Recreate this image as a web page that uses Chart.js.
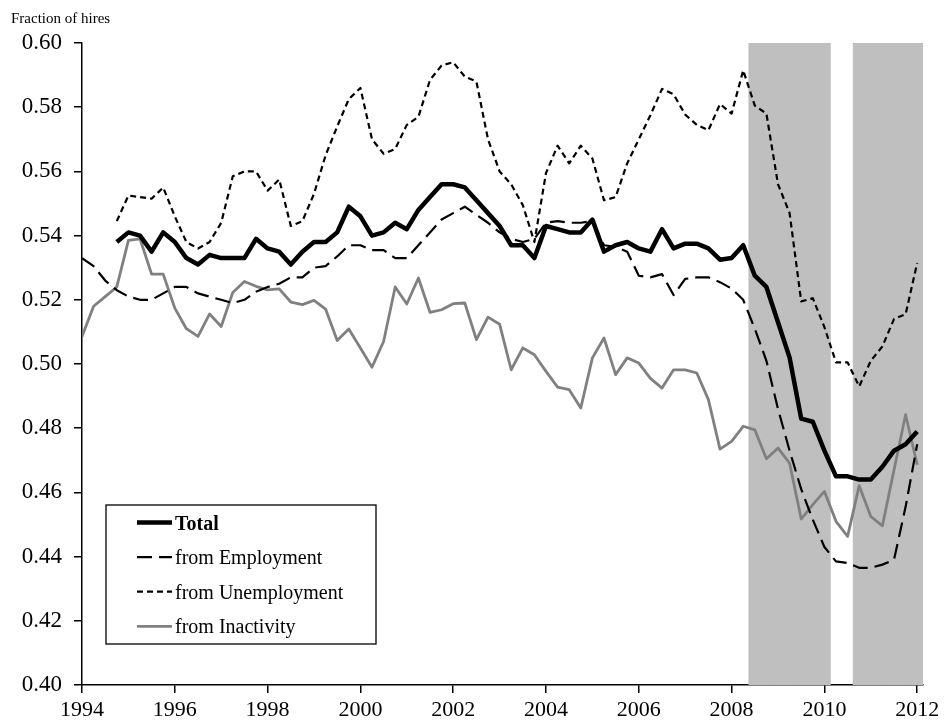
<!DOCTYPE html>
<html>
<head>
<meta charset="utf-8">
<title>Fraction of hires</title>
<script src="https://cdn.jsdelivr.net/npm/chart.js@4.4.1/dist/chart.umd.min.js"></script>
<style>
  html, body { margin: 0; padding: 0; background: #fff; }
</style>
</head>
<body>
<canvas id="chart1" width="949" height="727"></canvas>
<script>
// quarterly series, 1994Q1 .. 2012Q1
const firstYear = 1994;
const quarterCount = 73;
const axisEnd = 2012.125;
const xTickYears = [1994, 1996, 1998, 2000, 2002, 2004, 2006, 2008, 2010, 2012];
const yTickValues = [0.40, 0.42, 0.44, 0.46, 0.48, 0.50, 0.52, 0.54, 0.56, 0.58, 0.60];
const recessionQuarters = ['2008Q3', '2008Q4', '2009Q1', '2009Q2', '2009Q3', '2009Q4', '2010Q1',
                           '2010Q4', '2011Q1', '2011Q2', '2011Q3', '2011Q4', '2012Q1'];

const total = [null, null, null, 0.538, 0.541, 0.540, 0.535, 0.541, 0.538, 0.533, 0.531, 0.534, 0.533,
  0.533, 0.533, 0.539, 0.536, 0.535, 0.531, 0.535, 0.538, 0.538, 0.541, 0.549, 0.546, 0.540, 0.541,
  0.544, 0.542, 0.548, 0.552, 0.556, 0.556, 0.555, 0.551, 0.547, 0.543, 0.537, 0.537, 0.533, 0.543,
  0.542, 0.541, 0.541, 0.545, 0.535, 0.537, 0.538, 0.536, 0.535, 0.542, 0.536, 0.5375, 0.5375, 0.536,
  0.5325, 0.533, 0.537, 0.5275, 0.524, 0.513, 0.502, 0.483, 0.482, 0.473, 0.465, 0.465, 0.464, 0.464,
  0.468, 0.473, 0.475, 0.479];

const fromEmployment = [0.533, 0.5305, 0.526, 0.523, 0.521, 0.520, 0.520, 0.522, 0.524, 0.524, 0.522,
  0.521, 0.520, 0.519, 0.520, 0.5225, 0.524, 0.525, 0.527, 0.527, 0.530, 0.5305, 0.5335, 0.537, 0.537,
  0.5355, 0.5355, 0.533, 0.533, 0.537, 0.541, 0.545, 0.547, 0.549, 0.5465, 0.544, 0.541, 0.539, 0.538,
  0.539, 0.544, 0.5445, 0.544, 0.544, 0.5445, 0.537, 0.5365, 0.535, 0.5275, 0.527, 0.528, 0.5215,
  0.5265, 0.527, 0.527, 0.5255, 0.5235, 0.520, 0.511, 0.501, 0.486, 0.473, 0.461, 0.4515, 0.443,
  0.4385, 0.438, 0.4365, 0.4365, 0.4375, 0.439, 0.4555, 0.475];

const fromUnemployment = [null, null, null, 0.5445, 0.5525, 0.552, 0.5515, 0.555, 0.546, 0.538, 0.536,
  0.538, 0.544, 0.5585, 0.560, 0.560, 0.554, 0.5575, 0.543, 0.5445, 0.553, 0.565, 0.574, 0.5825, 0.586,
  0.570, 0.5655, 0.567, 0.5745, 0.577, 0.5885, 0.593, 0.594, 0.5895, 0.588, 0.570, 0.560, 0.556, 0.5495,
  0.538, 0.5595, 0.568, 0.5625, 0.568, 0.564, 0.551, 0.552, 0.5625, 0.570, 0.5775, 0.5857, 0.584,
  0.5777, 0.5745, 0.5728, 0.581, 0.578, 0.5915, 0.5805, 0.578, 0.556, 0.547, 0.5195, 0.5205, 0.5115,
  0.5005, 0.5005, 0.493, 0.501, 0.5055, 0.514, 0.5155, 0.5315];

const fromInactivity = [0.5086, 0.518, 0.521, 0.524, 0.5385, 0.539, 0.528, 0.528, 0.5174, 0.511, 0.5086,
  0.5156, 0.5117, 0.5223, 0.5257, 0.5242, 0.5231, 0.5234, 0.5193, 0.5185, 0.5198, 0.5171, 0.5073,
  0.5109, 0.505, 0.499, 0.507, 0.524, 0.5187, 0.5268, 0.5161, 0.5169, 0.5188, 0.519, 0.5076, 0.5146,
  0.5124, 0.4982, 0.505, 0.5029, 0.4977, 0.4928, 0.492, 0.4863, 0.5019, 0.5081, 0.4967, 0.5019, 0.5003,
  0.4955, 0.4925, 0.4982, 0.4982, 0.4972, 0.4889, 0.4735, 0.4759, 0.4806, 0.4795, 0.4705, 0.4738,
  0.4691, 0.4517, 0.4562, 0.4603, 0.451, 0.4463, 0.4621, 0.4525, 0.4496, 0.467, 0.4842, 0.4686];

function quarterToX(q) {
  return +q.slice(0, 4) + (+q.slice(5) - 1) / 4;
}

let quarterX = [];
for (let i = 0; i < quarterCount; i++) {
  quarterX.push(firstYear + i / 4);
}

const serif = '"Liberation Serif", "Times New Roman", serif';

// "Fraction of hires" and the boxed legend
const paperBits = {
  id: 'paperBits',
  afterDraw(chart) {
    const ctx = chart.ctx;
    const a = chart.chartArea;
    ctx.save();
    ctx.fillStyle = '#000';
    ctx.font = '15px ' + serif;
    ctx.textBaseline = 'alphabetic';
    ctx.fillText('Fraction of hires', 11, 23);

    const bx = a.left + 24, by = a.bottom - 180, bw = 270, bh = 139;
    ctx.fillStyle = '#fff';
    ctx.fillRect(bx, by, bw, bh);
    ctx.strokeStyle = '#000';
    ctx.lineWidth = 1.3;
    ctx.strokeRect(bx, by, bw, bh);

    let row = 0;
    chart.data.datasets.forEach(ds => {
      if (!ds.inLegend) return;
      const y = by + 17.5 + row * 34.6;
      ctx.beginPath();
      ctx.setLineDash(ds.borderDash || []);
      ctx.strokeStyle = ds.borderColor;
      ctx.lineWidth = ds.borderWidth;
      ctx.moveTo(bx + 31, y);
      ctx.lineTo(bx + 66, y);
      ctx.stroke();
      ctx.setLineDash([]);
      ctx.fillStyle = '#000';
      ctx.font = (ds.legendBold ? 'bold ' : '') + '20px ' + serif;
      ctx.fillText(ds.label, bx + 69, y + 7);
      row++;
    });
    ctx.restore();
  }
};

new Chart(document.getElementById('chart1'), {
  type: 'line',
  data: {
    labels: quarterX,
    datasets: [
      {
        label: 'Total',
        data: total,
        borderColor: '#000',
        borderWidth: 4.5,
        inLegend: true,
        legendBold: true,
        order: 1
      },
      {
        label: 'from Employment',
        data: fromEmployment,
        borderColor: '#000',
        borderWidth: 2.2,
        borderDash: [15, 7],
        inLegend: true,
        order: 2
      },
      {
        label: 'from Unemployment',
        data: fromUnemployment,
        borderColor: '#000',
        borderWidth: 2.2,
        borderDash: [6, 4],
        inLegend: true,
        order: 3
      },
      {
        label: 'from Inactivity',
        data: fromInactivity,
        borderColor: '#808080',
        borderWidth: 2.8,
        inLegend: true,
        order: 4
      },
      {
        type: 'bar',
        label: 'recession',
        data: recessionQuarters.map(q => ({ x: quarterToX(q), y: [0.40, 0.60] })),
        backgroundColor: '#bfbfbf',
        borderWidth: 0,
        barPercentage: 1.1,
        categoryPercentage: 1,
        order: 10
      }
    ]
  },
  options: {
    responsive: false,
    animation: false,
    devicePixelRatio: 1,
    layout: { padding: { top: 43, right: 26, bottom: 0, left: 0 } },
    elements: {
      point: { radius: 0, hoverRadius: 0 },
      line: { tension: 0, fill: false, borderJoinStyle: 'round', borderCapStyle: 'butt' }
    },
    plugins: {
      legend: { display: false },
      tooltip: { enabled: false }
    },
    scales: {
      x: {
        type: 'linear',
        offset: false,
        min: firstYear,
        max: axisEnd,
        afterFit(s) { s.height = 42; },
        afterBuildTicks(s) { s.ticks = xTickYears.map(v => ({ value: v })); },
        ticks: {
          callback: v => String(v),
          font: { family: serif, size: 22 },
          color: '#000',
          padding: 4,
          maxRotation: 0,
          autoSkip: false
        },
        grid: { offset: false, drawOnChartArea: false, tickLength: 8, color: '#000', lineWidth: 1.5 },
        border: { color: '#000', width: 1.5 }
      },
      y: {
        min: 0.40,
        max: 0.60,
        afterFit(s) { s.width = 82; },
        afterBuildTicks(s) { s.ticks = yTickValues.map(v => ({ value: v })); },
        ticks: {
          callback: v => v.toFixed(2),
          font: { family: serif, size: 23 },
          color: '#000',
          padding: 12
        },
        grid: { drawOnChartArea: false, tickLength: 8, color: '#000', lineWidth: 1.5 },
        border: { color: '#000', width: 1.5 }
      }
    }
  },
  plugins: [paperBits]
});
</script>
</body>
</html>
